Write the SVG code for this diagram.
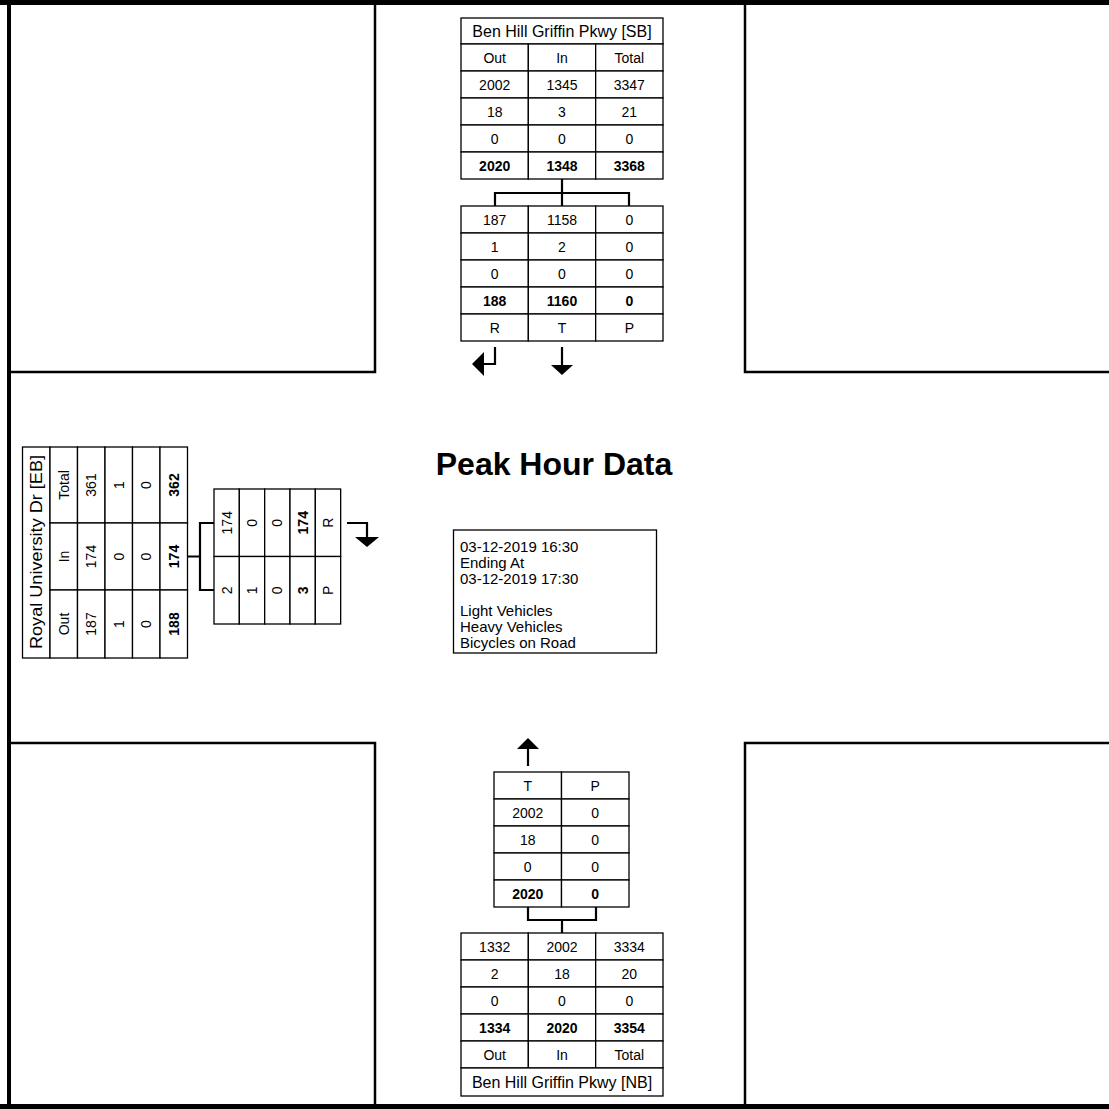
<svg xmlns="http://www.w3.org/2000/svg" width="1109" height="1109" viewBox="0 0 1109 1109">
<style>
.t{font-family:"Liberation Sans",Arial,sans-serif;font-size:14px;text-anchor:middle;fill:#000}
.b{font-weight:bold}
.ttl{font-size:16px}
.info{font-family:"Liberation Sans",Arial,sans-serif;font-size:15px;fill:#000}
.head1{font-family:"Liberation Sans",Arial,sans-serif;font-size:32px;font-weight:bold;text-anchor:middle;fill:#000}
.cell{fill:#fff;stroke:#000;stroke-width:1.3}
.frame{fill:none;stroke:#000;stroke-width:2.5}
.conn{fill:none;stroke:#000;stroke-width:2.2}
.ah{fill:#000}
</style>
<rect width="1109" height="1109" fill="#fff"/>
<g id="frame">
<line x1="0" y1="2.5" x2="1109" y2="2.5" stroke="#000" stroke-width="5"/>
<line x1="9" y1="0" x2="9" y2="1109" stroke="#000" stroke-width="4"/>
<line x1="0" y1="1106.5" x2="1109" y2="1106.5" stroke="#000" stroke-width="5"/>
<path class="frame" d="M9,372 H375 V0"/>
<path class="frame" d="M745,0 V372 H1109"/>
<path class="frame" d="M9,743 H375 V1109"/>
<path class="frame" d="M1109,743 H745 V1109"/>
</g>
<g id="sb-approach">
<rect class="cell" x="461" y="18" width="202" height="26"/>
<text class="t ttl" x="562" y="37">Ben Hill Griffin Pkwy [SB]</text>
<rect class="cell" x="461" y="44" width="67.33" height="27"/><rect class="cell" x="528.33" y="44" width="67.33" height="27"/><rect class="cell" x="595.67" y="44" width="67.33" height="27"/>
<rect class="cell" x="461" y="71" width="67.33" height="27"/><rect class="cell" x="528.33" y="71" width="67.33" height="27"/><rect class="cell" x="595.67" y="71" width="67.33" height="27"/>
<rect class="cell" x="461" y="98" width="67.33" height="27"/><rect class="cell" x="528.33" y="98" width="67.33" height="27"/><rect class="cell" x="595.67" y="98" width="67.33" height="27"/>
<rect class="cell" x="461" y="125" width="67.33" height="27"/><rect class="cell" x="528.33" y="125" width="67.33" height="27"/><rect class="cell" x="595.67" y="125" width="67.33" height="27"/>
<rect class="cell" x="461" y="152" width="67.33" height="27"/><rect class="cell" x="528.33" y="152" width="67.33" height="27"/><rect class="cell" x="595.67" y="152" width="67.33" height="27"/>
<text class="t" x="494.7" y="62.5">Out</text><text class="t" x="562" y="62.5">In</text><text class="t" x="629.3" y="62.5">Total</text>
<text class="t" x="494.7" y="89.5">2002</text><text class="t" x="562" y="89.5">1345</text><text class="t" x="629.3" y="89.5">3347</text>
<text class="t" x="494.7" y="116.5">18</text><text class="t" x="562" y="116.5">3</text><text class="t" x="629.3" y="116.5">21</text>
<text class="t" x="494.7" y="143.5">0</text><text class="t" x="562" y="143.5">0</text><text class="t" x="629.3" y="143.5">0</text>
<text class="t b" x="494.7" y="170.5">2020</text><text class="t b" x="562" y="170.5">1348</text><text class="t b" x="629.3" y="170.5">3368</text>
</g>
<g id="sb-movements">
<rect class="cell" x="461" y="206" width="67.33" height="27"/><rect class="cell" x="528.33" y="206" width="67.33" height="27"/><rect class="cell" x="595.67" y="206" width="67.33" height="27"/>
<rect class="cell" x="461" y="233" width="67.33" height="27"/><rect class="cell" x="528.33" y="233" width="67.33" height="27"/><rect class="cell" x="595.67" y="233" width="67.33" height="27"/>
<rect class="cell" x="461" y="260" width="67.33" height="27"/><rect class="cell" x="528.33" y="260" width="67.33" height="27"/><rect class="cell" x="595.67" y="260" width="67.33" height="27"/>
<rect class="cell" x="461" y="287" width="67.33" height="27"/><rect class="cell" x="528.33" y="287" width="67.33" height="27"/><rect class="cell" x="595.67" y="287" width="67.33" height="27"/>
<rect class="cell" x="461" y="314" width="67.33" height="27"/><rect class="cell" x="528.33" y="314" width="67.33" height="27"/><rect class="cell" x="595.67" y="314" width="67.33" height="27"/>
<text class="t" x="494.7" y="224.5">187</text><text class="t" x="562" y="224.5">1158</text><text class="t" x="629.3" y="224.5">0</text>
<text class="t" x="494.7" y="251.5">1</text><text class="t" x="562" y="251.5">2</text><text class="t" x="629.3" y="251.5">0</text>
<text class="t" x="494.7" y="278.5">0</text><text class="t" x="562" y="278.5">0</text><text class="t" x="629.3" y="278.5">0</text>
<text class="t b" x="494.7" y="305.5">188</text><text class="t b" x="562" y="305.5">1160</text><text class="t b" x="629.3" y="305.5">0</text>
<text class="t" x="494.7" y="332.5">R</text><text class="t" x="562" y="332.5">T</text><text class="t" x="629.3" y="332.5">P</text>
</g>
<g id="eb-approach">
<rect class="cell" x="22.5" y="447" width="27.5" height="211"/>
<text class="t ttl" transform="translate(36.25 552) rotate(-90)" x="0" y="5.5" textLength="194" lengthAdjust="spacingAndGlyphs">Royal University Dr [EB]</text>
<rect class="cell" x="50" y="447" width="27.5" height="76"/><rect class="cell" x="50" y="523" width="27.5" height="67"/><rect class="cell" x="50" y="590" width="27.5" height="68"/>
<rect class="cell" x="77.5" y="447" width="27.5" height="76"/><rect class="cell" x="77.5" y="523" width="27.5" height="67"/><rect class="cell" x="77.5" y="590" width="27.5" height="68"/>
<rect class="cell" x="105" y="447" width="27.5" height="76"/><rect class="cell" x="105" y="523" width="27.5" height="67"/><rect class="cell" x="105" y="590" width="27.5" height="68"/>
<rect class="cell" x="132.5" y="447" width="27.5" height="76"/><rect class="cell" x="132.5" y="523" width="27.5" height="67"/><rect class="cell" x="132.5" y="590" width="27.5" height="68"/>
<rect class="cell" x="160" y="447" width="27.5" height="76"/><rect class="cell" x="160" y="523" width="27.5" height="67"/><rect class="cell" x="160" y="590" width="27.5" height="68"/>
<text class="t" transform="translate(63.75 485) rotate(-90)" y="5">Total</text>
<text class="t" transform="translate(63.75 556.5) rotate(-90)" y="5">In</text>
<text class="t" transform="translate(63.75 624) rotate(-90)" y="5">Out</text>
<text class="t" transform="translate(91.25 485) rotate(-90)" y="5">361</text>
<text class="t" transform="translate(91.25 556.5) rotate(-90)" y="5">174</text>
<text class="t" transform="translate(91.25 624) rotate(-90)" y="5">187</text>
<text class="t" transform="translate(118.75 485) rotate(-90)" y="5">1</text>
<text class="t" transform="translate(118.75 556.5) rotate(-90)" y="5">0</text>
<text class="t" transform="translate(118.75 624) rotate(-90)" y="5">1</text>
<text class="t" transform="translate(146.25 485) rotate(-90)" y="5">0</text>
<text class="t" transform="translate(146.25 556.5) rotate(-90)" y="5">0</text>
<text class="t" transform="translate(146.25 624) rotate(-90)" y="5">0</text>
<text class="t b" transform="translate(173.75 485) rotate(-90)" y="5">362</text>
<text class="t b" transform="translate(173.75 556.5) rotate(-90)" y="5">174</text>
<text class="t b" transform="translate(173.75 624) rotate(-90)" y="5">188</text>
</g>
<g id="eb-movements">
<rect class="cell" x="214" y="489" width="25.33" height="67.5"/><rect class="cell" x="239.33" y="489" width="25.33" height="67.5"/><rect class="cell" x="264.67" y="489" width="25.33" height="67.5"/><rect class="cell" x="290" y="489" width="25.33" height="67.5"/><rect class="cell" x="315.33" y="489" width="25.33" height="67.5"/>
<rect class="cell" x="214" y="556.5" width="25.33" height="67.5"/><rect class="cell" x="239.33" y="556.5" width="25.33" height="67.5"/><rect class="cell" x="264.67" y="556.5" width="25.33" height="67.5"/><rect class="cell" x="290" y="556.5" width="25.33" height="67.5"/><rect class="cell" x="315.33" y="556.5" width="25.33" height="67.5"/>
<text class="t" transform="translate(226.67 522.75) rotate(-90)" y="5">174</text>
<text class="t" transform="translate(252 522.75) rotate(-90)" y="5">0</text>
<text class="t" transform="translate(277.33 522.75) rotate(-90)" y="5">0</text>
<text class="t b" transform="translate(302.67 522.75) rotate(-90)" y="5">174</text>
<text class="t" transform="translate(328 522.75) rotate(-90)" y="5">R</text>
<text class="t" transform="translate(226.67 590.25) rotate(-90)" y="5">2</text>
<text class="t" transform="translate(252 590.25) rotate(-90)" y="5">1</text>
<text class="t" transform="translate(277.33 590.25) rotate(-90)" y="5">0</text>
<text class="t b" transform="translate(302.67 590.25) rotate(-90)" y="5">3</text>
<text class="t" transform="translate(328 590.25) rotate(-90)" y="5">P</text>
</g>
<g id="nb-movements">
<rect class="cell" x="494" y="772" width="67.5" height="27"/><rect class="cell" x="561.5" y="772" width="67.5" height="27"/>
<rect class="cell" x="494" y="799" width="67.5" height="27"/><rect class="cell" x="561.5" y="799" width="67.5" height="27"/>
<rect class="cell" x="494" y="826" width="67.5" height="27"/><rect class="cell" x="561.5" y="826" width="67.5" height="27"/>
<rect class="cell" x="494" y="853" width="67.5" height="27"/><rect class="cell" x="561.5" y="853" width="67.5" height="27"/>
<rect class="cell" x="494" y="880" width="67.5" height="27"/><rect class="cell" x="561.5" y="880" width="67.5" height="27"/>
<text class="t" x="527.75" y="790.5">T</text><text class="t" x="595.25" y="790.5">P</text>
<text class="t" x="527.75" y="817.5">2002</text><text class="t" x="595.25" y="817.5">0</text>
<text class="t" x="527.75" y="844.5">18</text><text class="t" x="595.25" y="844.5">0</text>
<text class="t" x="527.75" y="871.5">0</text><text class="t" x="595.25" y="871.5">0</text>
<text class="t b" x="527.75" y="898.5">2020</text><text class="t b" x="595.25" y="898.5">0</text>
</g>
<g id="nb-approach">
<rect class="cell" x="461" y="933" width="67.33" height="27"/><rect class="cell" x="528.33" y="933" width="67.33" height="27"/><rect class="cell" x="595.67" y="933" width="67.33" height="27"/>
<rect class="cell" x="461" y="960" width="67.33" height="27"/><rect class="cell" x="528.33" y="960" width="67.33" height="27"/><rect class="cell" x="595.67" y="960" width="67.33" height="27"/>
<rect class="cell" x="461" y="987" width="67.33" height="27"/><rect class="cell" x="528.33" y="987" width="67.33" height="27"/><rect class="cell" x="595.67" y="987" width="67.33" height="27"/>
<rect class="cell" x="461" y="1014" width="67.33" height="27"/><rect class="cell" x="528.33" y="1014" width="67.33" height="27"/><rect class="cell" x="595.67" y="1014" width="67.33" height="27"/>
<rect class="cell" x="461" y="1041" width="67.33" height="27"/><rect class="cell" x="528.33" y="1041" width="67.33" height="27"/><rect class="cell" x="595.67" y="1041" width="67.33" height="27"/>
<rect class="cell" x="461" y="1068" width="202" height="28"/>
<text class="t" x="494.7" y="951.5">1332</text><text class="t" x="562" y="951.5">2002</text><text class="t" x="629.3" y="951.5">3334</text>
<text class="t" x="494.7" y="978.5">2</text><text class="t" x="562" y="978.5">18</text><text class="t" x="629.3" y="978.5">20</text>
<text class="t" x="494.7" y="1005.5">0</text><text class="t" x="562" y="1005.5">0</text><text class="t" x="629.3" y="1005.5">0</text>
<text class="t b" x="494.7" y="1032.5">1334</text><text class="t b" x="562" y="1032.5">2020</text><text class="t b" x="629.3" y="1032.5">3354</text>
<text class="t" x="494.7" y="1059.5">Out</text><text class="t" x="562" y="1059.5">In</text><text class="t" x="629.3" y="1059.5">Total</text>
<text class="t ttl" x="562" y="1087.5">Ben Hill Griffin Pkwy [NB]</text>
</g>
<g id="title">
<text class="head1" x="554" y="475">Peak Hour Data</text>
</g>
<g id="info">
<rect x="453.5" y="530" width="203" height="123" fill="#fff" stroke="#000" stroke-width="1.3"/>
<text class="info" x="460" y="552">03-12-2019 16:30</text>
<text class="info" x="460" y="568">Ending At</text>
<text class="info" x="460" y="584">03-12-2019 17:30</text>
<text class="info" x="460" y="616">Light Vehicles</text>
<text class="info" x="460" y="632">Heavy Vehicles</text>
<text class="info" x="460" y="648">Bicycles on Road</text>
</g>
<g id="connectors">
<path class="conn" d="M562,179 V206 M495,206 V193 H629 V206"/>
<path class="conn" d="M188,556.5 H200 M214,523 H200 V590 H214"/>
<path class="conn" d="M528,907 V920 H596 V907 M562,920 V933"/>
<path class="conn" d="M495,347 V364 H484"/>
<polygon class="ah" points="484,352 484,376 472,364"/>
<path class="conn" d="M562,347 V365"/>
<polygon class="ah" points="551,365 573,365 562,375"/>
<path class="conn" d="M347,523 H367 V537"/>
<polygon class="ah" points="355,537 379,537 367,547"/>
<path class="conn" d="M528,766 V749"/>
<polygon class="ah" points="517,749 539,749 528,738"/>
</g>
</svg>
